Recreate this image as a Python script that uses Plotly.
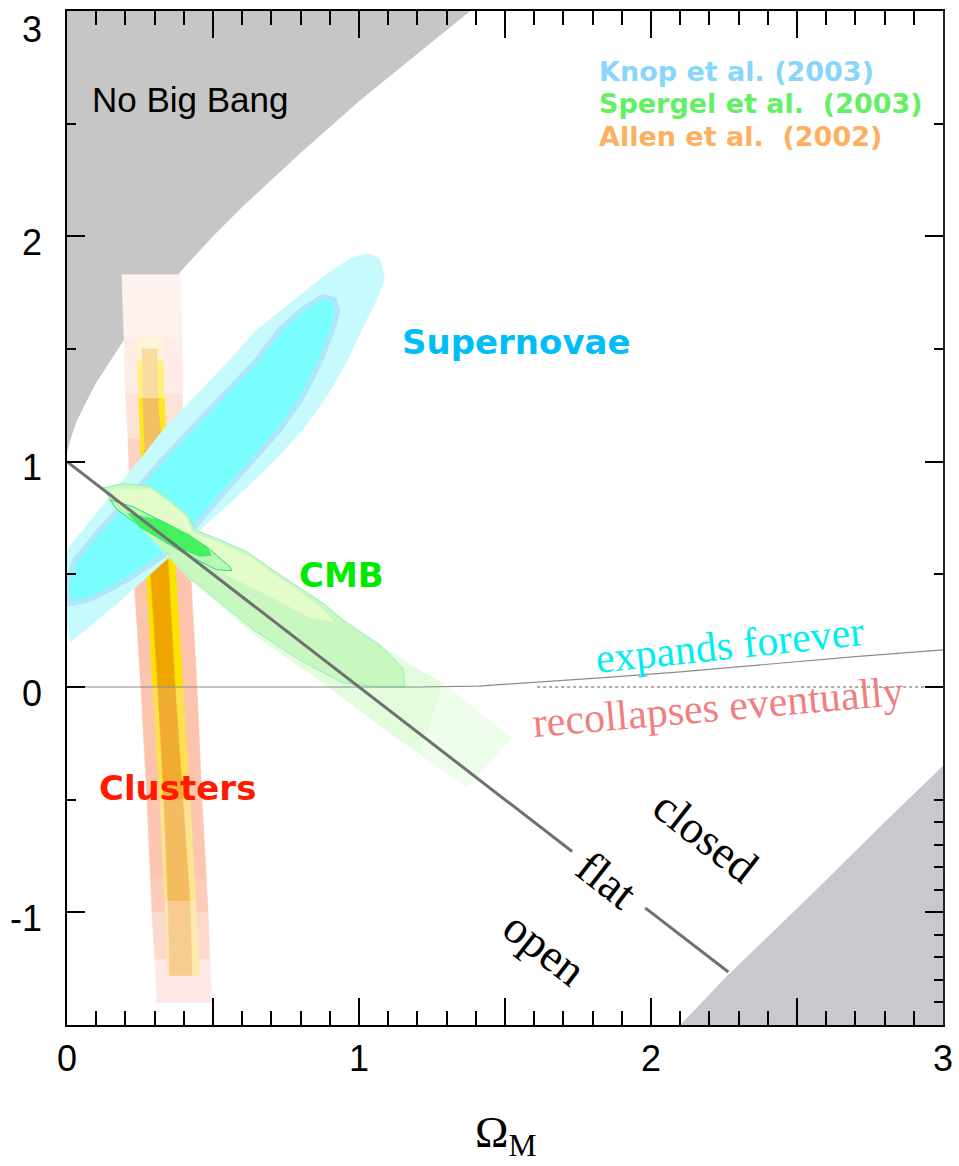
import plotly.graph_objects as go

# ---------------------------------------------------------------------------
# Data (Omega_M on x, Omega_Lambda on y)
# ---------------------------------------------------------------------------

# "No Big Bang" boundary (upper-left excluded region)
NBB_OM = [0.0, 0.01, 0.03, 0.06, 0.10, 0.20, 0.30, 0.40, 0.50, 0.60, 0.80, 1.00, 1.20, 1.40]
NBB_OL = [1.04, 1.09, 1.17, 1.25, 1.35, 1.55, 1.71, 1.86, 2.00, 2.13, 2.37, 2.60, 2.81, 3.02]

# Excluded region at lower right
LR_OM = [2.10, 2.262, 2.553, 2.782, 3.0]
LR_OL = [-1.50, -1.280, -0.916, -0.622, -0.35]

# Expand-forever / recollapse boundary
EXP_OM = [0.0, 1.0, 1.2, 1.41, 1.62, 1.85, 2.10, 2.44, 2.70, 3.0]
EXP_OL = [0.0, 0.0, 0.0, 0.004, 0.022, 0.043, 0.067, 0.107, 0.135, 0.165]
# Dotted Omega_Lambda = 0 continuation
DOT_OM = [1.61, 3.0]
DOT_OL = [0.0, 0.0]

# Flat universe line Omega_M + Omega_Lambda = 1 (gap left for its label)
FLAT_A_OM = [0.0, 1.73]
FLAT_A_OL = [1.0, -0.73]
FLAT_B_OM = [1.98, 2.265]
FLAT_B_OL = [-0.98, -1.265]

# Supernovae (Knop et al. 2003) confidence contours
SN_OUT_OM = [1.081, 1.068, 1.030, 0.975, 0.883, 0.763, 0.650, 0.548, 0.438, 0.329, 0.240,
             0.147, 0.055, 0.003, -0.014, -0.010, 0.010, 0.188, 0.335, 0.455, 0.582, 0.705,
             0.808, 0.890, 0.958, 1.010, 1.061, 1.088]
SN_OUT_OL = [1.862, 1.907, 1.924, 1.907, 1.827, 1.702, 1.587, 1.440, 1.289, 1.142, 0.996,
             0.844, 0.698, 0.618, 0.498, 0.364, 0.196, 0.387, 0.556, 0.698, 0.844, 0.996,
             1.142, 1.289, 1.440, 1.587, 1.720, 1.809]
SN_IN_OM = [0.873, 0.797, 0.729, 0.643, 0.530, 0.421, 0.318, 0.216, 0.113, 0.027, -0.003,
            0.010, 0.072, 0.147, 0.233, 0.335, 0.428, 0.524, 0.626, 0.729, 0.808, 0.866,
            0.910, 0.927, 0.914]
SN_IN_OL = [1.733, 1.667, 1.587, 1.440, 1.289, 1.142, 0.996, 0.844, 0.698, 0.564, 0.453,
            0.369, 0.387, 0.431, 0.498, 0.587, 0.698, 0.844, 0.996, 1.142, 1.289, 1.440,
            1.587, 1.667, 1.720]

# CMB (Spergel et al. 2003) contours
CMB_OUT_OM = [0.123, 0.192, 0.284, 0.359, 0.414, 0.438, 0.524, 0.616, 0.719, 0.876, 0.945,
              1.150, 1.287, 1.403, 1.523, 1.369, 1.105, 0.876, 0.650, 0.421, 0.250, 0.147]
CMB_OUT_OL = [0.884, 0.902, 0.893, 0.822, 0.760, 0.698, 0.653, 0.600, 0.507, 0.373, 0.298,
              0.120, 0.018, -0.102, -0.227, -0.444, -0.204, 0.018, 0.222, 0.476, 0.711, 0.831]
CMB_TAIL_OM = [1.287, 1.403, 1.523, 1.369, 1.208]
CMB_TAIL_OL = [0.018, -0.102, -0.227, -0.444, -0.298]
CMB_95_OM = [0.123, 0.192, 0.284, 0.359, 0.414, 0.438, 0.524, 0.616, 0.719, 0.876, 0.945,
             1.071, 1.150, 1.157, 1.071, 0.945, 0.797, 0.650, 0.421, 0.250, 0.147]
CMB_95_OL = [0.884, 0.902, 0.893, 0.822, 0.760, 0.698, 0.653, 0.600, 0.507, 0.373, 0.298,
             0.187, 0.084, 0.0, 0.0, 0.018, 0.120, 0.244, 0.484, 0.716, 0.831]
CMB_CORE_OM = [0.147, 0.284, 0.352, 0.407, 0.431, 0.530, 0.626, 0.729, 0.866, 0.917,
               0.832, 0.695, 0.558, 0.455, 0.318, 0.181]
CMB_CORE_OL = [0.880, 0.880, 0.818, 0.756, 0.684, 0.636, 0.578, 0.484, 0.360, 0.289,
               0.307, 0.400, 0.489, 0.556, 0.667, 0.800]
CMB_68_OM = [0.147, 0.226, 0.363, 0.479, 0.558, 0.565, 0.513, 0.397, 0.284, 0.171]
CMB_68_OL = [0.831, 0.800, 0.711, 0.622, 0.533, 0.516, 0.520, 0.596, 0.684, 0.787]
CMB_PEAK_OM = [0.205, 0.318, 0.421, 0.483, 0.496, 0.455, 0.352, 0.250]
CMB_PEAK_OL = [0.773, 0.742, 0.676, 0.618, 0.582, 0.578, 0.631, 0.707]

# Clusters (Allen et al. 2002): band edges at a set of Omega_Lambda levels
CL_OUT_OL = [1.83, 1.55, 1.30, 1.10, 0.85, 0.56, 0.0, -0.50, -0.85, -1.00, -1.21, -1.40]
CL_OUT_LO = [0.188, 0.195, 0.200, 0.209, 0.216, 0.226, 0.253, 0.274, 0.286, 0.291, 0.301, 0.308]
CL_OUT_HI = [0.387, 0.394, 0.395, 0.397, 0.408, 0.421, 0.445, 0.462, 0.477, 0.483, 0.489, 0.496]
CL_MID_OL = [1.55, 1.45, 1.28, 1.05, 0.56, 0.0, -0.50, -0.95, -1.28]
CL_MID_LO = [0.236, 0.240, 0.245, 0.253, 0.270, 0.294, 0.318, 0.335, 0.346]
CL_MID_HI = [0.325, 0.329, 0.333, 0.342, 0.370, 0.397, 0.421, 0.441, 0.455]
CL_IN_OL = [1.50, 1.28, 1.05, 0.56, 0.0, -0.50, -0.95, -1.28]
CL_IN_LO = [0.257, 0.260, 0.267, 0.284, 0.311, 0.332, 0.346, 0.352]
CL_IN_HI = [0.308, 0.311, 0.325, 0.346, 0.370, 0.397, 0.421, 0.428]

# Axis ticks
X_TICKS = [0, 1, 2, 3]
X_TICK_LABELS = ["0", "1", "2", "3"]
X_HALF = [0.5, 1.5, 2.5]
Y_TICKS = [-1, 0, 1, 2, 3]
Y_TICK_LABELS = ["-1", "0", "1", "2", "3"]
Y_MINOR = [-0.5, 0.5, 1.5, 2.5]
Y_RIGHT_FINE = [-1.4, -1.3, -1.2, -1.1, -0.9, -0.8, -0.7, -0.6]

# ---------------------------------------------------------------------------
# Styles
# ---------------------------------------------------------------------------
CL_OUT_COLORS = ["#fef2ee", "#feece6", "#fde2d8", "#fdd4c4", "#fccab4", "#fcc4ac",
                 "#fcc4ac", "#fcc6b0", "#fcccb8", "#fdd8cc", "#fde8e6"]
CL_MID_COLORS = ["#fff4d8", "#fff080", "#fbe820", "#f8e600", "#f8e400", "#fce050",
                 "#fde490", "#fde8b0"]
CL_IN_COLORS = ["#f8dca0", "#f2c060", "#f0a800", "#f0a400", "#f0ac30", "#f4bc60", "#f8cc90"]

SANS = "Liberation Sans, Arial, sans-serif"
SERIF = "Liberation Serif, Times New Roman, serif"
BOLD = "DejaVu Sans, sans-serif"

fig = go.Figure()


def polygon(xs, ys, fill, line_color=None, line_width=0):
    fig.add_trace(go.Scatter(
        x=list(xs) + [xs[0]], y=list(ys) + [ys[0]],
        mode="lines", fill="toself", fillcolor=fill,
        line=dict(color=line_color or fill, width=line_width),
        hoverinfo="skip", showlegend=False,
    ))


def band(levels, lo, hi, colors):
    for i in range(len(levels) - 1):
        polygon([lo[i], hi[i], hi[i + 1], lo[i + 1]],
                [levels[i], levels[i], levels[i + 1], levels[i + 1]],
                colors[i], line_width=0.6)


def line(xs, ys, color, width, dash="solid"):
    fig.add_trace(go.Scatter(
        x=xs, y=ys, mode="lines", line=dict(color=color, width=width, dash=dash),
        hoverinfo="skip", showlegend=False,
    ))


# Excluded regions
polygon([0.0] + NBB_OM + [0.0], [3.2] + NBB_OL + [3.2], "#c6c6c6")
polygon(LR_OM + [3.0], LR_OL + [-1.5], "#cac8cd")

# Clusters
band(CL_OUT_OL, CL_OUT_LO, CL_OUT_HI, CL_OUT_COLORS)
band(CL_MID_OL, CL_MID_LO, CL_MID_HI, CL_MID_COLORS)
band(CL_IN_OL, CL_IN_LO, CL_IN_HI, CL_IN_COLORS)

# Supernovae
polygon(SN_OUT_OM, SN_OUT_OL, "#c6fafc")
polygon(SN_IN_OM, SN_IN_OL, "#78fefe", line_color="#aee6fa", line_width=5)

# CMB
polygon(CMB_OUT_OM, CMB_OUT_OL, "#e2fcdc")
polygon(CMB_TAIL_OM, CMB_TAIL_OL, "#eefdec")
polygon(CMB_95_OM, CMB_95_OL, "#c8f8c0", line_color="#96eec4", line_width=1)
polygon(CMB_CORE_OM, CMB_CORE_OL, "#e2fcca")
polygon(CMB_68_OM, CMB_68_OL, "#b8f8b4", line_color="#28e070", line_width=1)
polygon(CMB_PEAK_OM, CMB_PEAK_OL, "#44f060")

# Boundary lines
line(EXP_OM, EXP_OL, "#8c8c8c", 1.2)
line(DOT_OM, DOT_OL, "#555555", 1, dash="dot")
line(FLAT_A_OM, FLAT_A_OL, "#707070", 3)
line(FLAT_B_OM, FLAT_B_OL, "#707070", 3)

# Secondary axes: long half-unit ticks on x, fine ticks on the right-hand y side
fig.add_trace(go.Scatter(x=[None], y=[None], xaxis="x2", yaxis="y2",
                         showlegend=False, hoverinfo="skip"))


def label(text, x, y, size, color, family, angle=0, anchor="center", bold=False):
    fig.add_annotation(
        x=x, y=y, xref="x", yref="y", text=f"<b>{text}</b>" if bold else text,
        showarrow=False, xanchor=anchor, yanchor="middle", textangle=angle,
        font=dict(size=size, color=color, family=family),
    )


label("No Big Bang", 0.079, 2.609, 35, "#000000", SANS, anchor="left")
label("Knop et al. (2003)", 1.814, 2.733, 27, "#88d6fa", BOLD, anchor="left", bold=True)
label("Spergel et al.\u00a0 (2003)", 1.814, 2.591, 27, "#64f064", BOLD, anchor="left", bold=True)
label("Allen et al.\u00a0 (2002)", 1.814, 2.444, 27, "#fcb060", BOLD, anchor="left", bold=True)
label("Supernovae", 1.140, 1.533, 34, "#00bef5", BOLD, anchor="left", bold=True)
label("CMB", 0.787, 0.498, 34, "#00ea00", BOLD, anchor="left", bold=True)
label("Clusters", 0.103, -0.449, 34, "#ff1a00", BOLD, anchor="left", bold=True)
label("expands forever", 2.269, 0.187, 42, "#00eeee", SERIF, angle=-6)
label("recollapses eventually", 2.228, -0.089, 42, "#f08080", SERIF, angle=-5)
label("closed", 2.187, -0.662, 46, "#000000", SERIF, angle=38)
label("flat", 1.851, -0.858, 46, "#000000", SERIF, angle=38)
label("open", 1.636, -1.160, 46, "#000000", SERIF, angle=38)

# y tick labels
Y_LABEL_SHIFT = [-6, -6, -6, -6, -18]
for v, t, s in zip(Y_TICKS, Y_TICK_LABELS, Y_LABEL_SHIFT):
    fig.add_annotation(
        x=0, y=v, xref="paper", yref="y", text=t, showarrow=False,
        xanchor="right", yanchor="middle", xshift=-23, yshift=s,
        font=dict(size=36, color="#000000", family=SANS),
    )

# x axis title
fig.add_annotation(
    x=1.5, y=-0.108, xref="x", yref="paper", text="\u03a9<sub>M</sub>",
    showarrow=False, xanchor="center", yanchor="middle",
    font=dict(size=45, color="#000000", family=SERIF),
)

fig.update_layout(
    width=959, height=1166,
    margin=dict(l=67, r=16, t=11, b=141),
    paper_bgcolor="#ffffff", plot_bgcolor="#ffffff",
    xaxis=dict(
        range=[0, 3], showgrid=False, zeroline=False, automargin=False,
        showline=True, linecolor="#000000", linewidth=2, mirror="ticks",
        ticks="inside", tickvals=X_TICKS, ticktext=X_TICK_LABELS,
        ticklen=27, tickwidth=1.5, tickcolor="#000000",
        minor=dict(dtick=0.1, tick0=0, ticks="inside", ticklen=14, tickwidth=1.5,
                   tickcolor="#000000", showgrid=False),
        tickfont=dict(size=36, color="#000000", family=SANS),
        ticklabelstandoff=1,
    ),
    xaxis2=dict(
        range=[0, 3], overlaying="x", side="bottom", anchor="y",
        showgrid=False, zeroline=False, automargin=False, showline=False,
        mirror="ticks", ticks="inside", tickvals=X_HALF, ticklen=27, tickwidth=1.5,
        tickcolor="#000000", showticklabels=False,
    ),
    yaxis=dict(
        range=[-1.5, 3], showgrid=False, zeroline=False, automargin=False,
        showline=True, linecolor="#000000", linewidth=2,
        ticks="inside", tickvals=Y_TICKS, ticklen=18, tickwidth=1.5,
        tickcolor="#000000", showticklabels=False,
        minor=dict(tickmode="array", tickvals=Y_MINOR, ticks="inside", ticklen=9,
                   tickwidth=1.5, tickcolor="#000000", showgrid=False),
    ),
    yaxis2=dict(
        range=[-1.5, 3], overlaying="y", side="right", anchor="x",
        showgrid=False, zeroline=False, automargin=False,
        showline=True, linecolor="#222222", linewidth=2,
        ticks="inside", tickvals=Y_TICKS, ticklen=18, tickwidth=1.5,
        tickcolor="#000000", showticklabels=False,
        minor=dict(tickmode="array", tickvals=Y_MINOR + Y_RIGHT_FINE, ticks="inside",
                   ticklen=9, tickwidth=1.5, tickcolor="#000000", showgrid=False),
    ),
)

fig.write_html("out.html")
